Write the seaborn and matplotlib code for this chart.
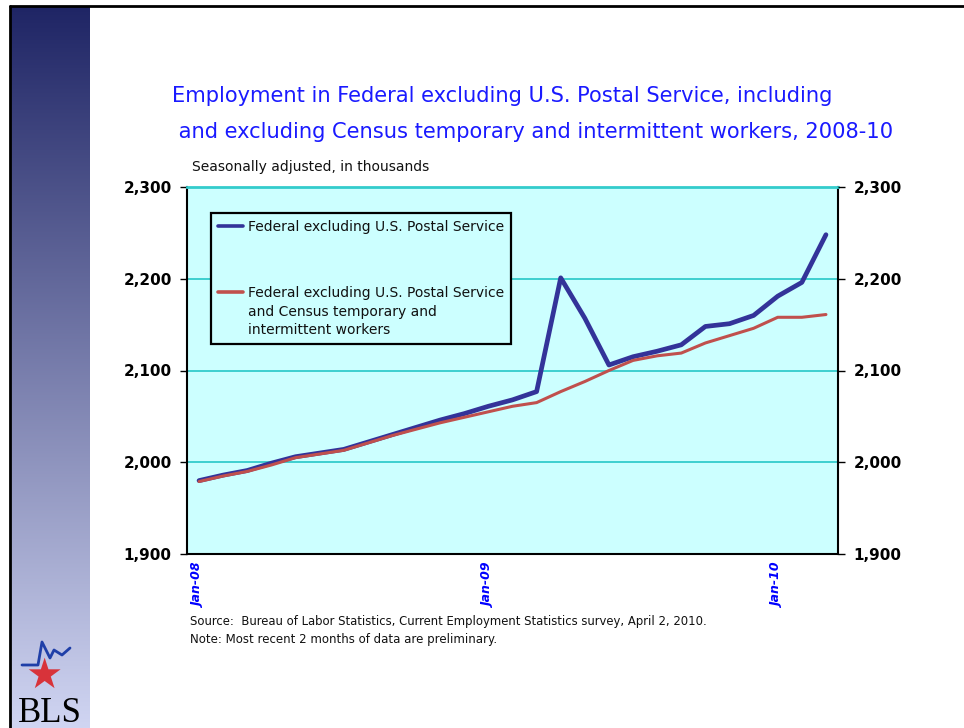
"""
Federal employment excl. USPS, with and without Census temporary workers, 2008-10.
Recreation of a BLS slide chart.
"""

import numpy as np
import pandas as pd
import matplotlib
matplotlib.use("Agg")
import matplotlib.pyplot as plt
import seaborn as sns
from matplotlib.lines import Line2D
from matplotlib.ticker import FuncFormatter

# ---------------------------------------------------------------------------
# Data (thousands, seasonally adjusted), Jan-08 .. Mar-10
# ---------------------------------------------------------------------------
months = list(pd.date_range("2008-01-01", periods=27, freq="MS").strftime("%b-%y"))
federal = [1980, 1986, 1991, 1999, 2006, 2010, 2014, 2022, 2030, 2038, 2046, 2053, 2061,
           2068, 2077, 2201, 2157, 2106, 2115, 2121, 2128, 2148, 2151, 2160, 2181, 2196, 2248]
federal_ex_census = [1979, 1985, 1990, 1997, 2005, 2009, 2013, 2021, 2029, 2036, 2043, 2049, 2055,
                     2061, 2065, 2077, 2088, 2100, 2111, 2116, 2119, 2130, 2138, 2146, 2158, 2158, 2161]
tick_months = ["Jan-08", "Jan-09", "Jan-10"]
y_ticks = [1900, 2000, 2100, 2200, 2300]

label_fed = "Federal excluding U.S. Postal Service"
label_ex = ["Federal excluding U.S. Postal Service", "and Census temporary and", "intermittent workers"]

BLUE = "#333399"
RED = "#c0504d"
CYAN_BG = "#ccffff"
GRID = "#33cccc"
TITLE_BLUE = "#1a1aff"

sns.set_style("white")
plt.rcParams["font.family"] = ["DejaVu Sans"]
plt.rcParams["text.color"] = "black"
plt.rcParams["ytick.color"] = "black"

df = pd.DataFrame({"idx": range(len(months)), "month": months,
                   "federal": federal, "ex_census": federal_ex_census})

W, H = 964, 728
fig = plt.figure(figsize=(W / 100, H / 100), dpi=100)

# ---------------------------------------------------------------------------
# Slide decoration: left gradient band, border, logo
# ---------------------------------------------------------------------------
band = fig.add_axes([11 / W, 0, 79 / W, 722 / H])
top_c = np.array(matplotlib.colors.to_rgb("#1f2565"))
bot_c = np.array(matplotlib.colors.to_rgb("#d0d5f2"))
t = np.linspace(0, 1, 256)[:, None]
grad = top_c[None, None, :] * (1 - t[..., None]) + bot_c[None, None, :] * t[..., None]
band.imshow(np.repeat(grad, 2, axis=1), aspect="auto")
band.axis("off")

fig.add_artist(Line2D([10 / W, 1], [1 - 6 / H, 1 - 6 / H], transform=fig.transFigure, color="black", lw=2))
fig.add_artist(Line2D([10 / W, 10 / W], [0, 1 - 6 / H], transform=fig.transFigure, color="black", lw=2))

# BLS logo: star, blue trend stroke, letters
fig.text(44 / W, 1 - 676 / H, "★", color="#d8333a", fontsize=30, ha="center", va="center")
logo_x = np.array([22, 38, 42, 50, 54, 62, 70]) / W
logo_y = 1 - np.array([665, 665, 642, 658, 650, 655, 648]) / H
fig.add_artist(Line2D(logo_x, logo_y, transform=fig.transFigure, color="#1f3fa8", lw=2))
fig.text(50 / W, 1 - 713 / H, "BLS", family="Liberation Serif", fontsize=25, ha="center", va="center")

# ---------------------------------------------------------------------------
# Main chart
# ---------------------------------------------------------------------------
ax = fig.add_axes([187 / W, 174 / H, 651 / W, 367 / H])
ax.set_facecolor(CYAN_BG)
ax.set_axisbelow(True)

sns.lineplot(data=df, x="idx", y="federal", color=BLUE, lw=3.4, ax=ax)
sns.lineplot(data=df, x="idx", y="ex_census", color=RED, lw=2.2, ax=ax)

ax.set_xlim(-0.5, len(months) - 0.5)
ax.set_ylim(y_ticks[0], y_ticks[-1])
ax.set_xlabel("")
ax.set_ylabel("")

fmt = FuncFormatter(lambda v, _: f"{v:,.0f}")
ax.set_yticks(y_ticks)
ax.yaxis.set_major_formatter(fmt)
ax.yaxis.grid(True, color=GRID, lw=1.3)
ax.tick_params(axis="y", direction="out", length=5, width=1, pad=6, labelsize=11, labelcolor="black")
for lbl in ax.get_yticklabels():
    lbl.set_fontweight("bold")

major = [months.index(m) for m in tick_months]
ax.set_xticks(major)
ax.set_xticklabels(tick_months, rotation=90, ha="center", va="top",
                   color="#0000ff", fontsize=9, fontweight="bold", fontstyle="italic")
ax.set_xticks([i - 0.5 for i in major], minor=True)
ax.tick_params(axis="x", which="major", length=0, pad=7)
ax.tick_params(axis="x", which="minor", direction="out", length=6, width=1, color="black")

for side in ["left", "bottom", "right"]:
    ax.spines[side].set_color("black")
    ax.spines[side].set_linewidth(1.5)
ax.spines["top"].set_color(GRID)
ax.spines["top"].set_linewidth(2)

ax2 = ax.twinx()
ax2.set_ylim(ax.get_ylim())
ax2.set_yticks(y_ticks)
ax2.yaxis.set_major_formatter(fmt)
ax2.tick_params(axis="y", direction="out", length=5, width=1, pad=6, labelsize=11, labelcolor="black")
for lbl in ax2.get_yticklabels():
    lbl.set_fontweight("bold")
for side in ["left", "bottom", "right", "top"]:
    ax2.spines[side].set_visible(False)
ax2.grid(False)

# legend: first text line of the red entry sits next to its handle
blank = Line2D([], [], alpha=0)
handles = [Line2D([], [], color=BLUE, lw=2.6), blank,
           Line2D([], [], color=RED, lw=2.6), blank, blank]
labels = [label_fed, " "] + label_ex
leg = ax.legend(handles, labels, loc="upper left", bbox_to_anchor=(0.037, 0.929),
                borderaxespad=0, fontsize=10, frameon=True, fancybox=False,
                edgecolor="black", facecolor=CYAN_BG, framealpha=1,
                handlelength=1.8, handletextpad=0.35, labelspacing=0.33, borderpad=0.5)
leg.get_frame().set_linewidth(1.6)
leg.get_texts()[1].set_fontsize(32)
for txt in leg.get_texts():
    txt.set_color("#111111")

# ---------------------------------------------------------------------------
# Titles and notes
# ---------------------------------------------------------------------------
fig.text(172 / W, 1 - 96 / H, "Employment in Federal excluding U.S. Postal Service, including",
         color=TITLE_BLUE, fontsize=15.1, ha="left", va="center")
fig.text(172 / W, 1 - 132 / H, " and excluding Census temporary and intermittent workers, 2008-10",
         color=TITLE_BLUE, fontsize=15.1, ha="left", va="center")
fig.text(192 / W, 1 - 167 / H, "Seasonally adjusted, in thousands", fontsize=10,
         color="#111111", ha="left", va="center")
fig.text(190 / W, 1 - 621 / H,
         "Source:  Bureau of Labor Statistics, Current Employment Statistics survey, April 2, 2010.",
         fontsize=8.4, color="#111111", ha="left", va="center")
fig.text(190 / W, 1 - 640 / H, "Note: Most recent 2 months of data are preliminary.",
         fontsize=8.5, color="#111111", ha="left", va="center")

fig.savefig("out.png", dpi=100)
plt.close(fig)
